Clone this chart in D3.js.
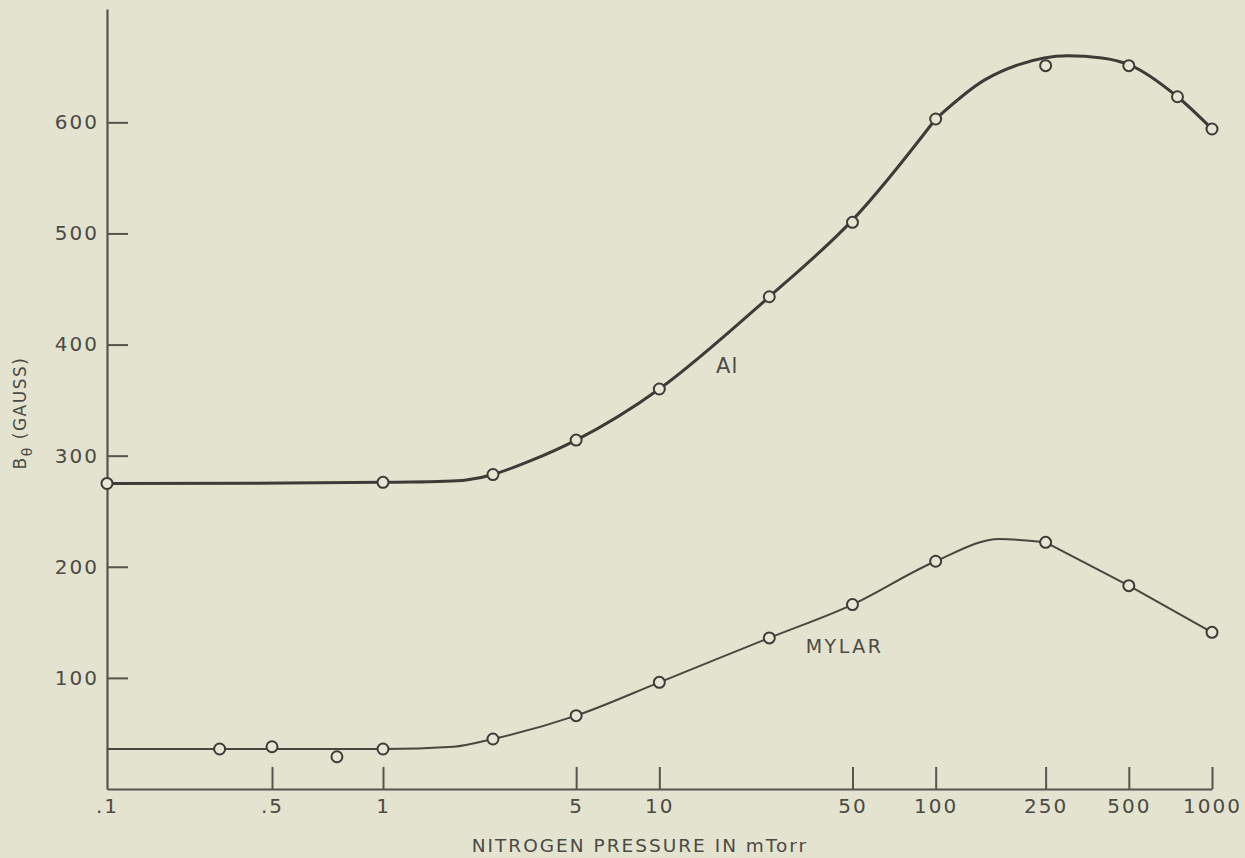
<!DOCTYPE html>
<html>
<head>
<meta charset="utf-8">
<script src="https://cdn.jsdelivr.net/npm/d3@7"></script>
<style>
  body { margin: 0; background: #e3e3d0; }
  text { font-family: "DejaVu Sans", sans-serif; fill: #4b4a45; }
</style>
</head>
<body>
<div id="chart"></div>
<script>
// Defining svg width and height
const svgWidth = 1245;
const svgHeight = 858;

// tick values and labels
const xTickValues = [0.1, 0.5, 1, 5, 10, 50, 100, 250, 500, 1000];
const xTickLabels = [".1", ".5", "1", "5", "10", "50", "100", "250", "500", "1000"];
const yTickValues = [100, 200, 300, 400, 500, 600];

// Al - measured points (pressure in mTorr, B in gauss)
const alPressure = [0.1, 1, 2.5, 5, 10, 25, 50, 100, 250, 500, 750, 1000];
const alField = [275, 276, 283, 314, 360, 443, 510, 603, 651, 651, 623, 594];
// Al - hand drawn curve (it bends sharply at 100 mTorr)
const alCurvePressure = [0.1, 1, 2, 2.5, 5, 10, 25, 50, 100, 150, 200, 300, 400, 500, 750, 1000];
const alCurveField = [275, 276, 278, 283, 314, 360, 443, 512, 603, 638, 652, 660, 658, 652, 623, 594];
const alBreak = 100;

// Mylar - measured points
const mylarPressure = [0.3, 0.5, 0.75, 1, 2.5, 5, 10, 25, 50, 100, 250, 500, 1000];
const mylarField = [36, 38, 29, 36, 45, 66, 96, 136, 166, 205, 222, 183, 141];
// Mylar - hand drawn curve, straight segments after 250 mTorr
const mylarCurvePressure = [0.1, 1, 1.8, 2.5, 5, 10, 25, 50, 100, 170, 250, 500, 1000];
const mylarCurveField = [36, 36, 38, 45, 66, 96, 136, 166, 205, 225, 222, 183, 141];
const mylarBreak = 250;

const svg = d3.select("#chart")
  .append("svg")
  .attr("width", svgWidth)
  .attr("height", svgHeight);

svg.append("rect")
  .attr("width", svgWidth)
  .attr("height", svgHeight)
  .attr("fill", "#e3e3d0");

// the original log axis is stretched between .1 and 1, so piecewise log
const xScale = d3.scaleLog()
  .domain([0.1, 0.5, 1, 1000])
  .range([107, 272, 383, 1212]);

const yScale = d3.scaleLinear()
  .domain([0, 702])
  .range([789, 9]);

const axisColor = "#55544e";

// x axis, ticks pointing up
const xAxis = svg.append("g")
  .attr("transform", `translate(0, ${yScale(0)})`)
  .call(d3.axisBottom(xScale)
    .tickValues(xTickValues)
    .tickFormat((d, i) => xTickLabels[i])
    .tickSizeInner(-22)
    .tickSizeOuter(0)
    .tickPadding(10));

// y axis, ticks pointing right
const yAxis = svg.append("g")
  .attr("transform", `translate(${xScale(0.1)}, 0)`)
  .call(d3.axisLeft(yScale)
    .tickValues(yTickValues)
    .tickSizeInner(-21)
    .tickSizeOuter(0)
    .tickPadding(8));

[xAxis, yAxis].forEach(ax => {
  ax.select(".domain").attr("stroke", axisColor).attr("stroke-width", 2.2);
  ax.selectAll(".tick line").attr("stroke", axisColor).attr("stroke-width", 2);
  ax.selectAll(".tick text")
    .attr("font-size", 20)
    .attr("letter-spacing", 2)
    .attr("fill", "#4b4a45")
    .attr("font-family", "DejaVu Sans, sans-serif");
});
xAxis.selectAll(".tick line").filter(d => d === 0.1).remove();

// curves
const smoothLine = d3.line()
  .x(d => xScale(d[0]))
  .y(d => yScale(d[1]))
  .curve(d3.curveMonotoneX);

const roundLine = d3.line()
  .x(d => xScale(d[0]))
  .y(d => yScale(d[1]))
  .curve(d3.curveCatmullRom.alpha(0.5));

const straightLine = d3.line()
  .x(d => xScale(d[0]))
  .y(d => yScale(d[1]));

function drawPiece(pts, gen, color, w) {
  svg.append("path")
    .datum(pts)
    .attr("d", gen)
    .attr("fill", "none")
    .attr("stroke", color)
    .attr("stroke-width", w)
    .attr("stroke-linejoin", "round");
}

const alPts = alCurvePressure.map((p, i) => [p, alCurveField[i]]);
drawPiece(alPts.filter(d => d[0] <= alBreak), roundLine, "#3d3b37", 3);
drawPiece(alPts.filter(d => d[0] >= alBreak), smoothLine, "#3d3b37", 3);

const mylarPts = mylarCurvePressure.map((p, i) => [p, mylarCurveField[i]]);
drawPiece(mylarPts.filter(d => d[0] <= mylarBreak), smoothLine, "#48463f", 2);
drawPiece(mylarPts.filter(d => d[0] >= mylarBreak), straightLine, "#48463f", 2);

// open circle markers
function addMarkers(px, by) {
  svg.append("g")
    .selectAll("circle")
    .data(px.map((p, i) => [p, by[i]]))
    .enter()
    .append("circle")
    .attr("cx", d => xScale(d[0]))
    .attr("cy", d => yScale(d[1]))
    .attr("r", 5.5)
    .attr("fill", "#e6e6d4")
    .attr("stroke", "#3d3b37")
    .attr("stroke-width", 2);
}
addMarkers(alPressure, alField);
addMarkers(mylarPressure, mylarField);

// curve labels
svg.append("text")
  .attr("x", xScale(17.6))
  .attr("y", yScale(374))
  .attr("text-anchor", "middle")
  .attr("font-size", 21)
  .attr("letter-spacing", 1)
  .text("Al");

svg.append("text")
  .attr("x", xScale(46.8))
  .attr("y", yScale(122))
  .attr("text-anchor", "middle")
  .attr("font-size", 19)
  .attr("letter-spacing", 2.5)
  .text("MYLAR");

// axis titles
svg.append("text")
  .attr("x", 640)
  .attr("y", 852)
  .attr("text-anchor", "middle")
  .attr("font-size", 18.5)
  .attr("letter-spacing", 2)
  .text("NITROGEN PRESSURE IN mTorr");

const yTitle = svg.append("text")
  .attr("transform", "translate(26, 413) rotate(-90)")
  .attr("text-anchor", "middle")
  .attr("font-size", 17)
  .attr("letter-spacing", 1.5);
yTitle.append("tspan").text("B");
yTitle.append("tspan").attr("dy", 6).attr("font-size", 14).text("\u03B8");
yTitle.append("tspan").attr("dy", -6).text(" (GAUSS)");
</script>
</body>
</html>
